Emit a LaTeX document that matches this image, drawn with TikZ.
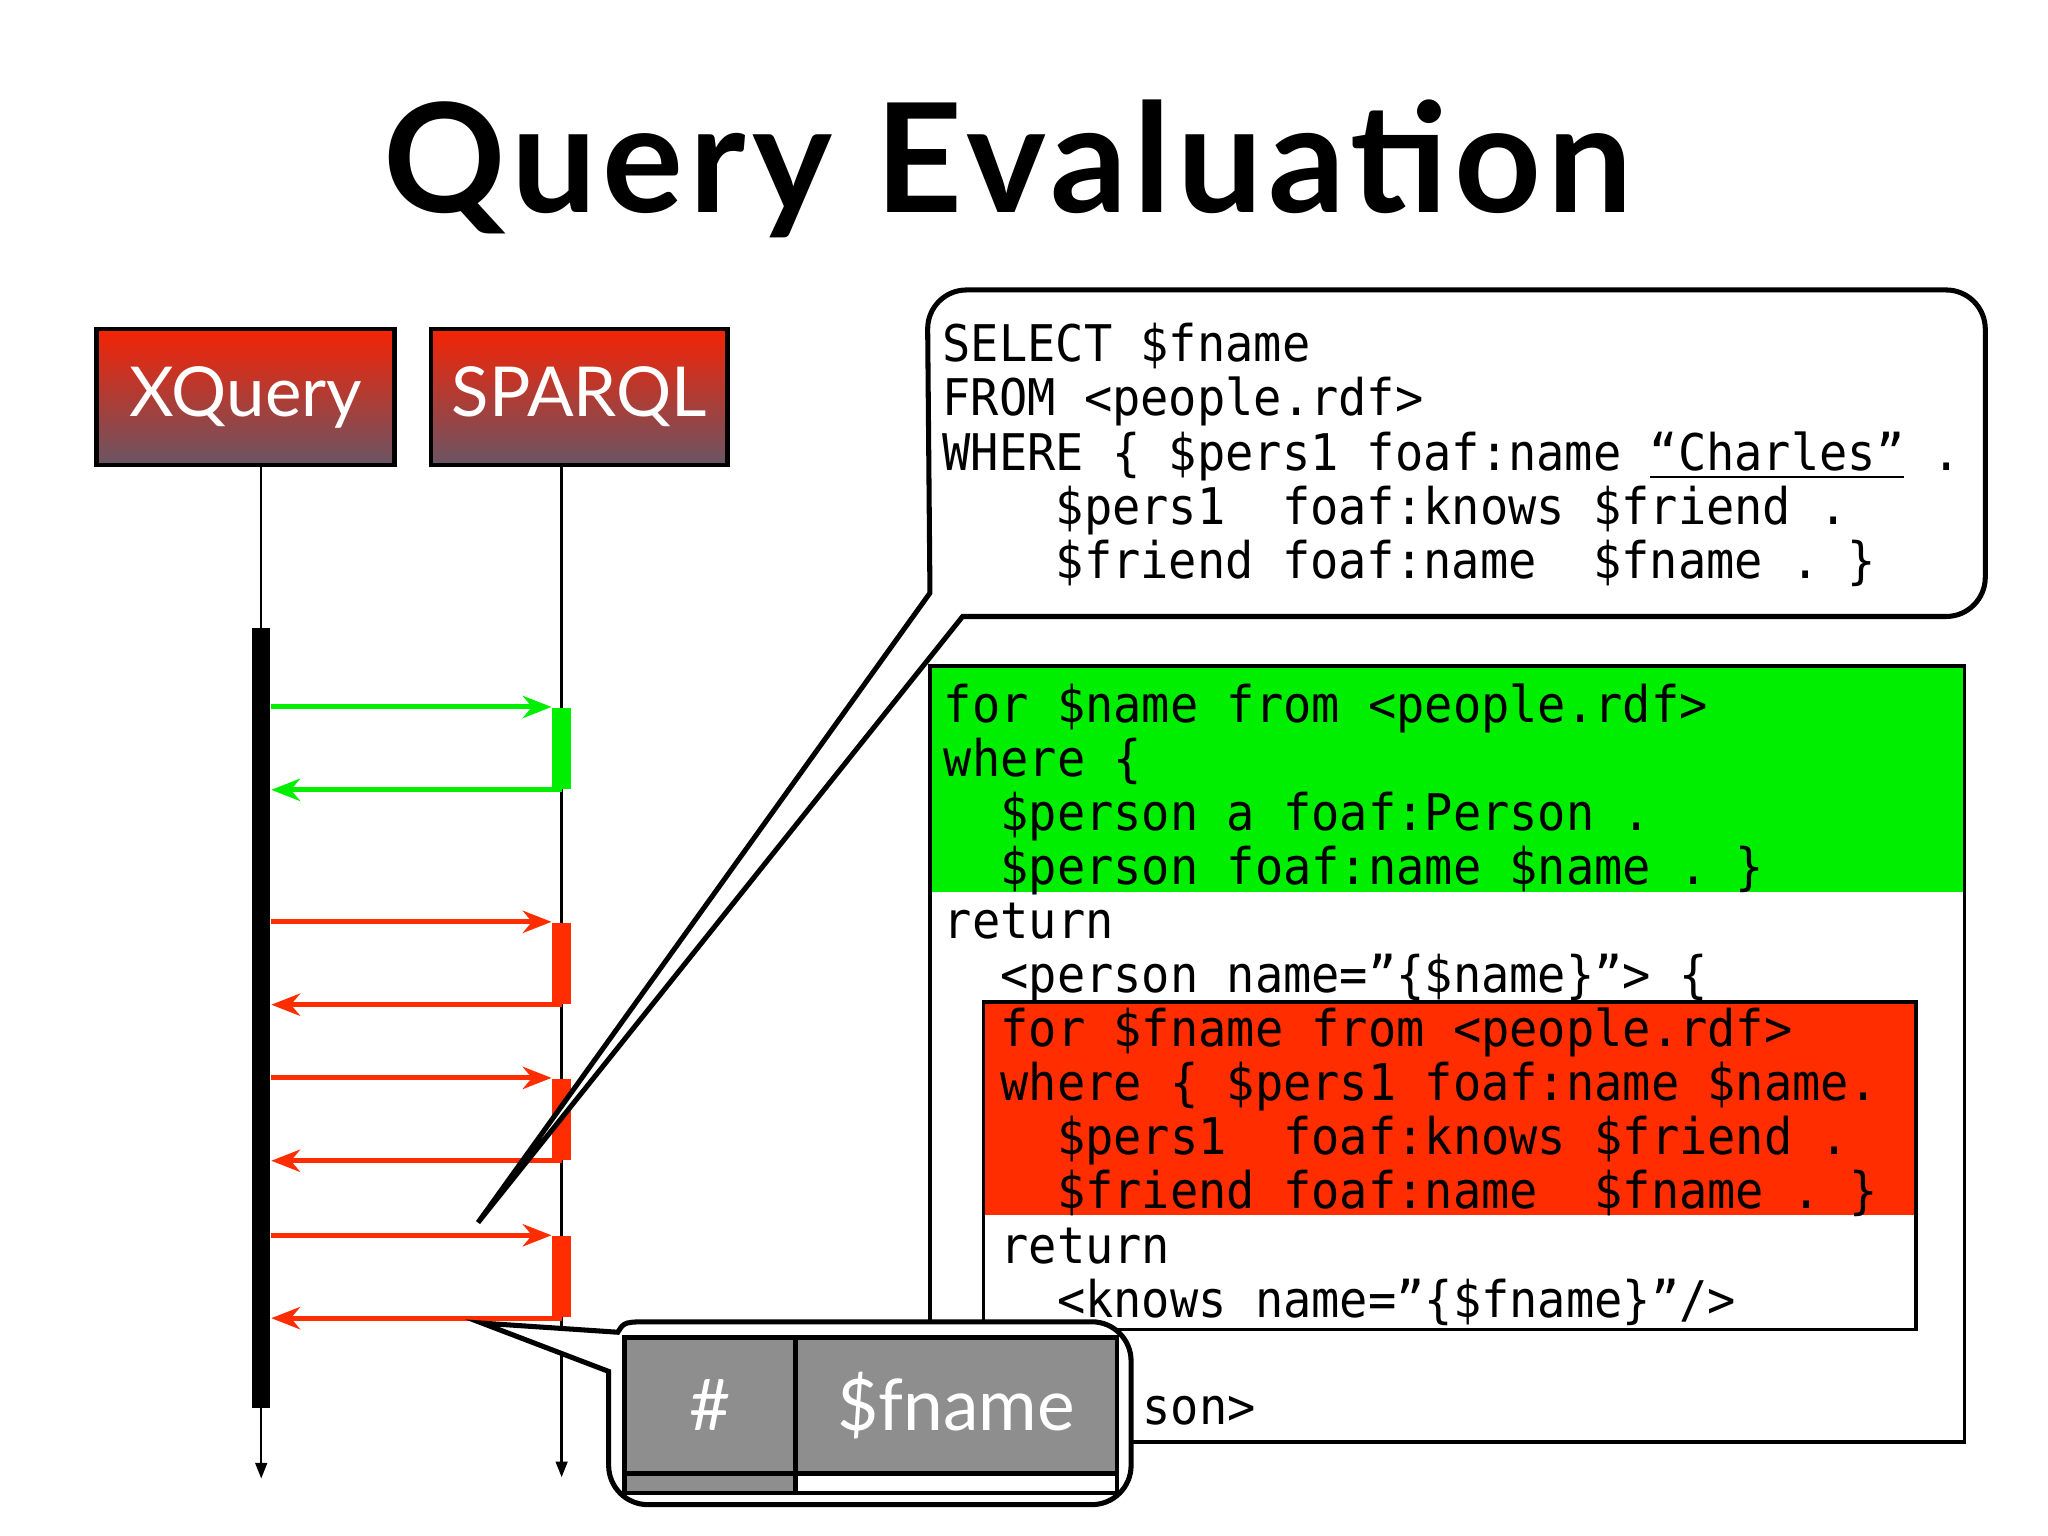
\documentclass[tikz,border=0pt]{standalone}
\usepackage{fontspec}
\setmonofont[FakeStretch=0.93]{DejaVu Sans Mono}
\newfontfamily\labelfont{Lato}
\newfontfamily\titlefont[LetterSpace=4]{Lato}
\usetikzlibrary{arrows.meta}

\definecolor{hdrtop}{RGB}{245,35,5}
\definecolor{hdrbot}{RGB}{105,85,100}
\definecolor{fgreen}{RGB}{0,238,0}
\definecolor{fred}{RGB}{255,45,0}
\definecolor{cellgray}{RGB}{142,142,142}

\begin{document}
\begin{tikzpicture}[x=0.01cm, y=-0.01cm,
  header/.style={draw, line width=1pt, top color=hdrtop, bottom color=hdrbot, text=white,
    font=\labelfont\fontsize{15}{18}\selectfont, minimum width=2.28cm, minimum height=1.04cm, inner sep=0pt},
  act/.style={minimum width=0.14cm, minimum height=0.62cm, inner sep=0pt},
  call/.style={line width=1.1pt, -{Stealth[length=0.22cm, width=0.17cm, inset=0.07cm]}},
  life/.style={line width=0.5pt, -{Triangle[length=0.12cm, width=0.09cm]}},
  code/.style={font=\ttfamily\fontsize{11}{13}\selectfont, anchor=base west, inner sep=0pt},
  callout/.style={draw, fill=white, line width=1.1pt},
  cell/.style={draw, line width=1pt, fill=cellgray, text=white, font=\labelfont\fontsize{15.5}{19}\selectfont, inner sep=0pt}]

\useasboundingbox (0,0) rectangle (1568,1176);

\node[font=\titlefont\bfseries\fontsize{33}{40}\selectfont, anchor=base] (title) at (772,163) {Query Evaluation};

% the two engines
\node[header] (xq) at (188,304) {XQuery};
\node[header, minimum width=2.27cm] (sq) at (443.5,304) {SPARQL};

% lifelines
\coordinate (xend) at (200,1132);
\coordinate (send) at (430,1131);
\draw[life] (xq.south -| xend) -- (xend);
\draw[life] (sq.south -| send) -- (send);

\node[fill=black, minimum width=0.14cm, minimum height=5.97cm, inner sep=0pt] (xbar) at (200,779.5) {};

% calls to SPARQL and the answers
\foreach \y/\c/\n in {573/fgreen/1, 737.5/fred/2, 857/fred/3, 977.5/fred/4} {
\node[act, fill=\c] (a\n) at (430,\y) {};
\draw[call, \c] (xbar.east |- a\n.north) -- (a\n.north west);
\draw[call, \c] (a\n.south) -- (xbar.east |- a\n.south);
}

% XQuery program
\fill[fgreen] (712,510) rectangle (1504,683);
\draw[thick, fill=white] (753,767) rectangle (1467,1018);
\fill[fred] (753,767) rectangle (1467,930);
\draw[thick] (753,767) rectangle (1467,1018);
\draw[thick] (712,510) rectangle (1504,1104);

\foreach \txt [count=\i from 0] in {
  {for \$name from <people.rdf>},
  {where \{},
  {\ \ \$person a foaf:Person .},
  {\ \ \$person foaf:name \$name . \}},
  {return},
  {\ \ <person name=”\{\$name\}”> \{},
  {\ \ for \$fname from <people.rdf>},
  {\ \ where \{ \$pers1 foaf:name \$name.},
  {\ \ \ \ \$pers1\ \ foaf:knows \$friend .},
  {\ \ \ \ \$friend foaf:name\ \ \$fname . \}},
  {\ \ return},
  {\ \ \ \ <knows name=”\{\$fname\}”/>}} {
\node[code] (x\i) at (722, 553+41.4*\i) {\txt};
}
\node[code] (xclose) at (874,1091) {son>};

% SPARQL query callout
\draw[callout] (366,936) -- (737,472) [rounded corners=0.3cm] -- (1520,472) -- (1520,222) -- (710,222) [sharp corners] -- (712,454) -- cycle;

\foreach \txt [count=\i from 0] in {
  {SELECT \$fname},
  {FROM <people.rdf>},
  {WHERE \{ \$pers1 foaf:name \underline{“Charles”} .},
  {\ \ \ \ \$pers1\ \ foaf:knows \$friend .},
  {\ \ \ \ \$friend foaf:name\ \ \$fname . \}}} {
\node[code] (s\i) at (721, 277+41.5*\i) {\txt};
}

% result table callout
\draw[callout] (369,1013) -- (473,1020) .. controls (478,1012) .. (500,1012) [rounded corners=0.3cm] -- (866,1012) -- (866,1152) -- (466,1152) [sharp corners] -- (466,1050) -- cycle;

\node[cell, minimum width=1.31cm, minimum height=1.04cm] (hash) at (543.5,1076) {\#};
\node[cell, minimum width=2.46cm, minimum height=1.04cm] (fname) at (732,1076) {\$fname};
\node[cell, minimum width=1.31cm, minimum height=0.15cm] (hashrow) at (543.5,1135.5) {};
\node[cell, fill=white, minimum width=2.46cm, minimum height=0.15cm] (fnamerow) at (732,1135.5) {};

\end{tikzpicture}
\end{document}
